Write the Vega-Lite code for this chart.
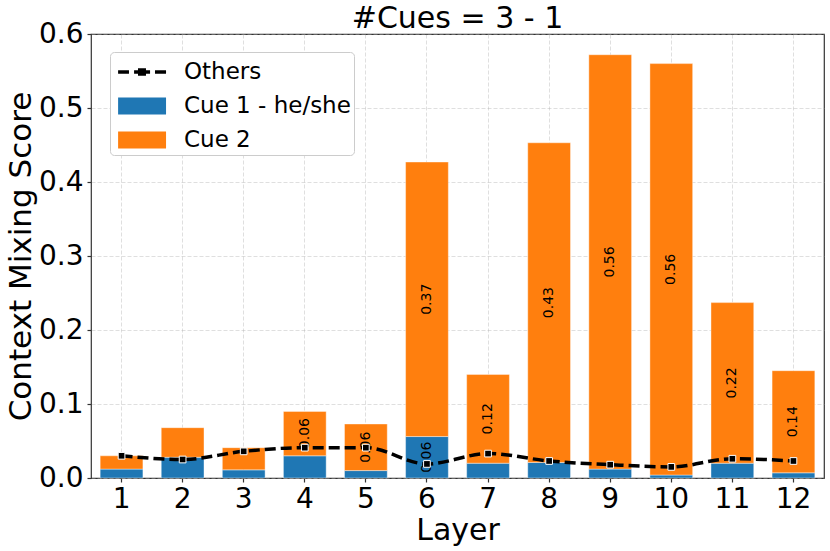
{
  "$schema": "https://vega.github.io/schema/vega-lite/v6.json",
  "width": 733,
  "height": 444,
  "autosize": "none",
  "padding": {"left": 91, "top": 34, "right": 6, "bottom": 73},
  "background": "white",
  "title": {
    "text": "#Cues = 3 - 1",
    "fontSize": 30,
    "fontWeight": "normal",
    "font": "DejaVu Sans",
    "color": "black",
    "anchor": "middle",
    "frame": "group",
    "baseline": "alphabetic",
    "offset": -38
  },
  "data": {
    "values": [
      {"layer": 1, "series": "Cue 1 - he/she", "value": 0.012},
      {"layer": 1, "series": "Cue 2", "value": 0.018},
      {"layer": 1, "series": "Others", "value": 0.030},
      {"layer": 2, "series": "Cue 1 - he/she", "value": 0.028},
      {"layer": 2, "series": "Cue 2", "value": 0.040},
      {"layer": 2, "series": "Others", "value": 0.025},
      {"layer": 3, "series": "Cue 1 - he/she", "value": 0.011},
      {"layer": 3, "series": "Cue 2", "value": 0.030},
      {"layer": 3, "series": "Others", "value": 0.036},
      {"layer": 4, "series": "Cue 1 - he/she", "value": 0.030},
      {"layer": 4, "series": "Cue 2", "value": 0.060},
      {"layer": 4, "series": "Others", "value": 0.041},
      {"layer": 5, "series": "Cue 1 - he/she", "value": 0.010},
      {"layer": 5, "series": "Cue 2", "value": 0.063},
      {"layer": 5, "series": "Others", "value": 0.041},
      {"layer": 6, "series": "Cue 1 - he/she", "value": 0.056},
      {"layer": 6, "series": "Cue 2", "value": 0.371},
      {"layer": 6, "series": "Others", "value": 0.019},
      {"layer": 7, "series": "Cue 1 - he/she", "value": 0.020},
      {"layer": 7, "series": "Cue 2", "value": 0.120},
      {"layer": 7, "series": "Others", "value": 0.033},
      {"layer": 8, "series": "Cue 1 - he/she", "value": 0.021},
      {"layer": 8, "series": "Cue 2", "value": 0.432},
      {"layer": 8, "series": "Others", "value": 0.023},
      {"layer": 9, "series": "Cue 1 - he/she", "value": 0.012},
      {"layer": 9, "series": "Cue 2", "value": 0.560},
      {"layer": 9, "series": "Others", "value": 0.018},
      {"layer": 10, "series": "Cue 1 - he/she", "value": 0.004},
      {"layer": 10, "series": "Cue 2", "value": 0.556},
      {"layer": 10, "series": "Others", "value": 0.015},
      {"layer": 11, "series": "Cue 1 - he/she", "value": 0.020},
      {"layer": 11, "series": "Cue 2", "value": 0.217},
      {"layer": 11, "series": "Others", "value": 0.026},
      {"layer": 12, "series": "Cue 1 - he/she", "value": 0.007},
      {"layer": 12, "series": "Cue 2", "value": 0.138},
      {"layer": 12, "series": "Others", "value": 0.023}
    ]
  },
  "encoding": {
    "x": {
      "field": "layer",
      "type": "ordinal",
      "title": "Layer",
      "scale": {"paddingInner": 0.3, "paddingOuter": 0.15},
      "axis": {
        "labelAngle": 0,
        "bandPosition": 0.5,
        "labelBaseline": "alphabetic",
        "labelPadding": 25,
        "titleBaseline": "alphabetic",
        "titleY": 61,
        "titleFontSize": 30
      }
    }
  },
  "layer": [
    {
      "transform": [{"filter": "datum.series != 'Others'"}],
      "mark": {"type": "bar", "stroke": "white", "strokeWidth": 0.8, "strokeOpacity": 0.5},
      "encoding": {
        "y": {
          "field": "value",
          "type": "quantitative",
          "stack": "zero",
          "title": "Context Mixing Score",
          "scale": {"domain": [0, 0.6], "nice": false},
          "axis": {
            "values": [0, 0.1, 0.2, 0.3, 0.4, 0.5, 0.6],
            "format": ".1f",
            "labelPadding": 4,
            "titleFontSize": 31,
            "titleAngle": 270,
            "titleBaseline": "alphabetic",
            "titleX": -61,
            "titleY": 222
          }
        },
        "color": {
          "field": "series",
          "type": "nominal",
          "title": null,
          "scale": {
            "domain": ["Others", "Cue 1 - he/she", "Cue 2"],
            "range": ["black", "#1f77b4", "#ff7f0e"]
          }
        },
        "order": {"field": "series", "sort": "ascending"}
      }
    },
    {
      "transform": [
        {"filter": "datum.series != 'Others'"},
        {"stack": "value", "groupby": ["layer"], "sort": [{"field": "series", "order": "ascending"}], "as": ["v0", "v1"]},
        {"filter": "datum.value >= 0.05"},
        {"calculate": "(datum.v0 + datum.v1) / 2", "as": "mid"}
      ],
      "mark": {"type": "text", "angle": 270, "fontSize": 14, "font": "DejaVu Sans", "color": "black", "baseline": "middle", "align": "center"},
      "encoding": {
        "y": {"field": "mid", "type": "quantitative"},
        "text": {"field": "value", "type": "quantitative", "format": ".2f"}
      }
    },
    {
      "transform": [{"filter": "datum.series == 'Others'"}],
      "mark": {"type": "line", "stroke": "black", "strokeWidth": 3.5, "strokeDash": [11, 5], "interpolate": "monotone"},
      "encoding": {
        "y": {"field": "value", "type": "quantitative"}
      }
    },
    {
      "transform": [{"filter": "datum.series == 'Others'"}],
      "mark": {"type": "point", "shape": "square", "filled": true, "fill": "black", "stroke": "white", "strokeWidth": 1, "size": 45, "opacity": 1},
      "encoding": {
        "y": {"field": "value", "type": "quantitative"}
      }
    },
    {
      "transform": [{"filter": "datum.layer < 0"}],
      "mark": {"type": "point", "filled": true, "opacity": 1},
      "encoding": {
        "y": {"field": "value", "type": "quantitative"},
        "color": {
          "field": "series",
          "type": "nominal",
          "title": null,
          "legend": {
            "orient": "none",
            "legendX": 19,
            "legendY": 18,
            "padding": 3,
            "rowPadding": 5,
            "strokeColor": "#cccccc",
            "fillColor": "white",
            "cornerRadius": 4,
            "labelFont": "DejaVu Sans",
            "labelFontSize": 23,
            "labelColor": "black",
            "labelOffset": 37,
            "labelLimit": 300,
            "symbolSize": 1156,
            "symbolStrokeWidth": 0,
            "symbolOpacity": 1
          }
        },
        "shape": {
          "field": "series",
          "type": "nominal",
          "title": null,
          "scale": {
            "domain": ["Others", "Cue 1 - he/she", "Cue 2"],
            "range": [
              "M-0.70,-0.1H-0.06V0.1H-0.70Z M0.24,-0.1H1.18V0.1H0.24Z M0.47,-0.22H0.94V0.22H0.47Z M1.47,-0.1H2.12V0.1H1.47Z",
              "M-0.70,-0.5H2.12V0.5H-0.70Z",
              "M-0.70,-0.5H2.12V0.5H-0.70Z"
            ]
          }
        }
      }
    }
  ],
  "config": {
    "font": "DejaVu Sans",
    "view": {"stroke": "#333333", "strokeWidth": 1.2},
    "axis": {
      "labelFont": "DejaVu Sans",
      "labelFontSize": 28,
      "labelColor": "black",
      "titleFont": "DejaVu Sans",
      "titleFontSize": 30,
      "titleFontWeight": "normal",
      "titleColor": "black",
      "domain": false,
      "tickSize": 4,
      "tickColor": "#333333",
      "tickWidth": 1.2,
      "grid": true,
      "gridColor": "#b0b0b0",
      "gridOpacity": 0.5,
      "gridDash": [4, 2],
      "gridWidth": 0.8,
      "zindex": 1
    }
  }
}
